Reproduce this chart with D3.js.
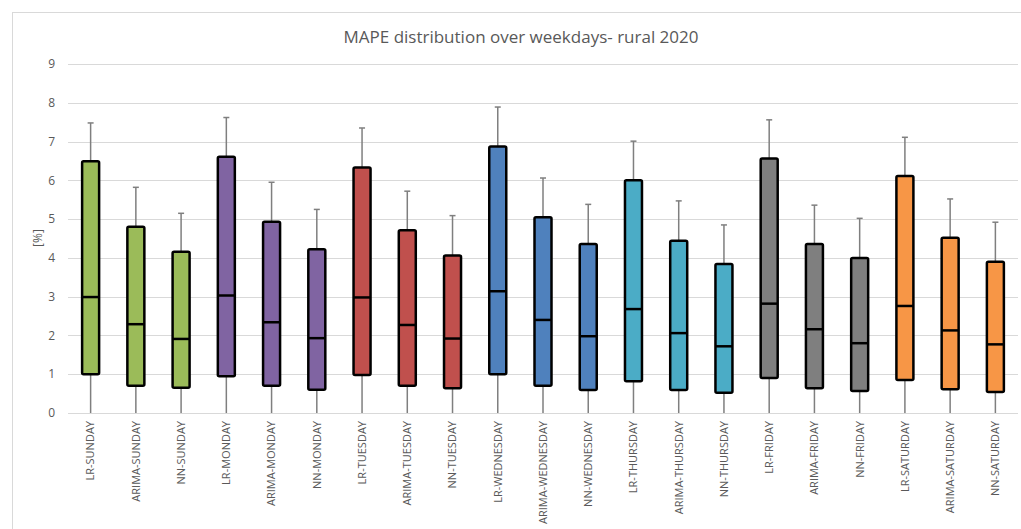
<!DOCTYPE html>
<html>
<head>
<meta charset="utf-8">
<script src="https://cdn.jsdelivr.net/npm/d3@7"></script>
<style>
  html, body { margin: 0; padding: 0; background: #fff; }
  svg { display: block; }
  text { font-family: "Open Sans", "Liberation Sans", sans-serif; fill: #595959; }
</style>
</head>
<body>
<svg id="chart" width="1021" height="529"></svg>
<script>
// Forecast models and weekdays making up each box
const categories = [
  "LR-SUNDAY", "ARIMA-SUNDAY", "NN-SUNDAY",
  "LR-MONDAY", "ARIMA-MONDAY", "NN-MONDAY",
  "LR-TUESDAY", "ARIMA-TUESDAY", "NN-TUESDAY",
  "LR-WEDNESDAY", "ARIMA-WEDNESDAY", "NN-WEDNESDAY",
  "LR-THURSDAY", "ARIMA-THURSDAY", "NN-THURSDAY",
  "LR-FRIDAY", "ARIMA-FRIDAY", "NN-FRIDAY",
  "LR-SATURDAY", "ARIMA-SATURDAY", "NN-SATURDAY"
];
const weekdays = ["SUNDAY", "MONDAY", "TUESDAY", "WEDNESDAY", "THURSDAY", "FRIDAY", "SATURDAY"];

// MAPE distribution statistics [%]
const minValues    = [0, 0, 0, 0, 0, 0, 0, 0, 0, 0, 0, 0, 0, 0, 0, 0, 0, 0, 0, 0, 0];
const q1Values     = [1.00, 0.70, 0.65, 0.95, 0.70, 0.60, 0.98, 0.70, 0.64, 1.00, 0.70, 0.59, 0.82, 0.59, 0.52, 0.90, 0.64, 0.57, 0.85, 0.61, 0.54];
const medianValues = [2.99, 2.29, 1.91, 3.03, 2.34, 1.93, 2.98, 2.27, 1.92, 3.14, 2.40, 1.98, 2.68, 2.06, 1.72, 2.82, 2.16, 1.80, 2.76, 2.13, 1.77];
const q3Values     = [6.49, 4.80, 4.16, 6.61, 4.93, 4.22, 6.33, 4.71, 4.06, 6.87, 5.05, 4.36, 6.00, 4.44, 3.84, 6.56, 4.36, 4.00, 6.11, 4.52, 3.90];
const maxValues    = [7.48, 5.82, 5.15, 7.62, 5.95, 5.25, 7.35, 5.72, 5.09, 7.89, 6.06, 5.38, 7.01, 5.47, 4.85, 7.56, 5.36, 5.02, 7.11, 5.52, 4.92];

const yTicks = [0, 1, 2, 3, 4, 5, 6, 7, 8, 9];
const weekdayColors = ["#9BBB59", "#8064A2", "#C0504D", "#4F81BD", "#4BACC6", "#7F7F7F", "#F79646"];

const rows = categories.map((c, i) => ({
  name: c,
  min: minValues[i], q1: q1Values[i], median: medianValues[i], q3: q3Values[i], max: maxValues[i],
  day: weekdays.find(d => c.endsWith("-" + d))
}));

const svg = d3.select("#chart");
const margin = { left: 68, right: 3, top: 64, bottom: 116 };
const W = 1021, H = 529;

// outer chart frame
svg.append("rect")
  .attr("x", 12.5).attr("y", 12.5)
  .attr("width", W + 20).attr("height", H + 20)
  .attr("fill", "none").attr("stroke", "#d9d9d9").attr("stroke-width", 1);

const x = d3.scaleBand().domain(categories).range([margin.left, W - margin.right]);
const y = d3.scaleLinear().domain([0, 9]).range([H - margin.bottom, margin.top]);
const color = d3.scaleOrdinal().domain(weekdays).range(weekdayColors);

// horizontal gridlines
svg.append("g")
  .selectAll("line").data(yTicks).join("line")
  .attr("x1", margin.left).attr("x2", W - margin.right)
  .attr("y1", d => Math.round(y(d)) + 0.5).attr("y2", d => Math.round(y(d)) + 0.5)
  .attr("stroke", "#d9d9d9").attr("stroke-width", 1);

// y axis labels
svg.append("g")
  .selectAll("text").data(yTicks).join("text")
  .attr("x", 55).attr("y", d => y(d))
  .attr("dy", "0.35em")
  .attr("text-anchor", "end")
  .style("font-size", "12px")
  .text(d => d);

// x axis labels (rotated)
const xAxis = svg.append("g")
  .attr("transform", `translate(0,${y(0)})`)
  .call(d3.axisBottom(x).tickSize(0).tickPadding(0));
xAxis.select(".domain").remove();
xAxis.selectAll("text")
  .style("font-family", '"Open Sans", "Liberation Sans", sans-serif')
  .style("font-size", "11px").attr("fill", "#595959")
  .attr("text-anchor", "end")
  .attr("dy", "0.35em")
  .attr("transform", "translate(0,8) rotate(-90)")
  .attr("x", 0).attr("y", 0);

// y axis title
svg.append("text")
  .attr("text-anchor", "middle")
  .attr("dy", "0.35em")
  .attr("transform", `translate(38,238) rotate(-90)`)
  .style("font-size", "12px")
  .text("[%]");

// chart title
svg.append("text")
  .attr("x", 521).attr("y", 43)
  .attr("text-anchor", "middle")
  .style("font-size", "17px")
  .text("MAPE distribution over weekdays- rural 2020");

const boxW = 17;
const capW = 6;
const g = svg.append("g");
const box = g.selectAll("g.box").data(rows).join("g")
  .attr("class", "box")
  .attr("transform", d => `translate(${x(d.name) + x.bandwidth() / 2},0)`);

// whiskers
box.append("line")
  .attr("x1", 0).attr("x2", 0)
  .attr("y1", d => y(d.q3)).attr("y2", d => y(d.max))
  .attr("stroke", "#7f7f7f").attr("stroke-width", 1.5);
box.append("line")
  .attr("x1", 0).attr("x2", 0)
  .attr("y1", d => y(d.q1)).attr("y2", d => y(d.min))
  .attr("stroke", "#7f7f7f").attr("stroke-width", 1.5);
box.append("line")
  .attr("x1", -capW / 2).attr("x2", capW / 2)
  .attr("y1", d => y(d.max)).attr("y2", d => y(d.max))
  .attr("stroke", "#7f7f7f").attr("stroke-width", 1.5);

// quartile boxes
box.append("rect")
  .attr("x", -boxW / 2).attr("width", boxW)
  .attr("y", d => y(d.q3)).attr("height", d => y(d.q1) - y(d.q3))
  .attr("rx", 1.5).attr("ry", 1.5)
  .attr("fill", d => color(d.day))
  .attr("stroke", "#000").attr("stroke-width", 2.5);

// medians
box.append("line")
  .attr("x1", -boxW / 2).attr("x2", boxW / 2)
  .attr("y1", d => y(d.median)).attr("y2", d => y(d.median))
  .attr("stroke", "#000").attr("stroke-width", 2.5);
</script>
</body>
</html>
